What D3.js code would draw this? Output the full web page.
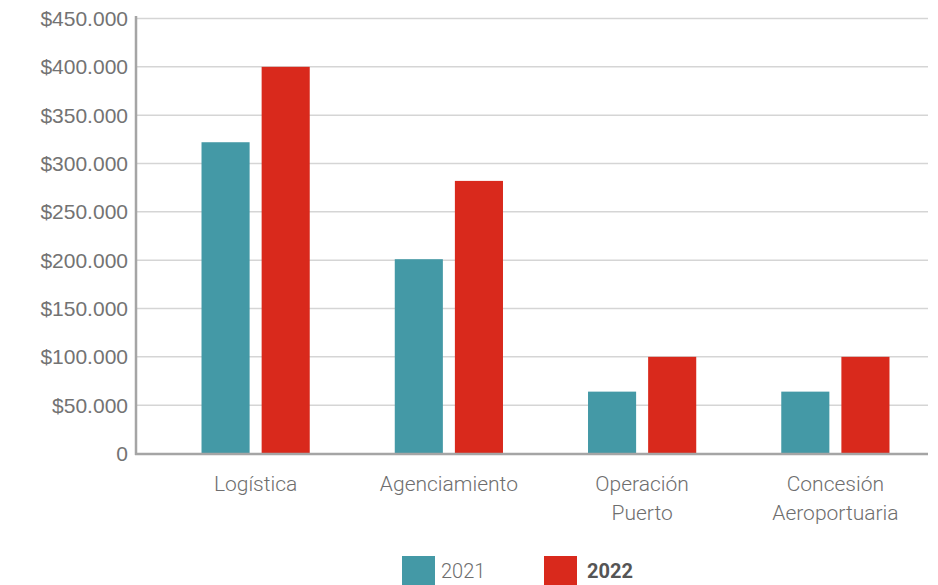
<!DOCTYPE html>
<html>
<head>
<meta charset="utf-8">
<script src="https://cdn.jsdelivr.net/npm/d3@7"></script>
<style>
 body { margin: 0; background: #fff; }
 svg { display: block; }
</style>
</head>
<body>
<div id="chart"></div>
<script>
var w = 938;
var h = 585;

// data
var categories = [["Logística"], ["Agenciamiento"], ["Operación", "Puerto"], ["Concesión", "Aeroportuaria"]];
var series = ["2021", "2022"];
var values2021 = [322000, 201000, 64000, 64000];
var values2022 = [400000, 282000, 100000, 100000];
var yTicks = [0, 50000, 100000, 150000, 200000, 250000, 300000, 350000, 400000, 450000];
var colors = ["#4499a6", "#d9291c"];

var svg = d3.select("#chart")
 .append("svg")
 .attr("width", w)
 .attr("height", h);

var pLeft = 136, pRight = 928, pTop = 18.5, pBottom = 453.5;

var yScale = d3.scaleLinear().domain([0, 450000]).range([pBottom, pTop]);
var keys = categories.map(function(c) { return c.join(" "); });
var x0 = d3.scaleBand().domain(keys).range([159, 932]).paddingInner(0.44).paddingOuter(0.22);
var x1 = d3.scaleBand().domain(series).range([0, x0.bandwidth()]).paddingInner(0.2);

// gridlines
svg.append("g")
 .selectAll("line")
 .data(yTicks.slice(1))
 .enter().append("line")
 .attr("x1", pLeft).attr("x2", pRight)
 .attr("y1", function(d) { return yScale(d); })
 .attr("y2", function(d) { return yScale(d); })
 .attr("stroke", "#d5d5d5")
 .attr("stroke-width", 1.5);

// y labels
var fmt = function(d) {
  if (d === 0) return "0";
  return "$" + d3.format(",")(d).replace(/,/g, ".");
};
svg.append("g")
 .selectAll("text")
 .data(yTicks)
 .enter().append("text")
 .attr("x", 128)
 .attr("y", function(d) { return yScale(d); })
 .attr("dy", "0.35em")
 .attr("text-anchor", "end")
 .style("font-family", "Liberation Sans, Arial, sans-serif")
 .style("font-size", "21px")
 .style("fill", "#737373")
 .text(fmt);

// bars
var rows = keys.map(function(k, i) { return { key: k, v: [values2021[i], values2022[i]] }; });
var grp = svg.append("g")
 .selectAll("g")
 .data(rows)
 .enter().append("g")
 .attr("transform", function(d) { return "translate(" + x0(d.key) + ",0)"; });

grp.selectAll("rect")
 .data(function(d) { return series.map(function(s, j) { return { s: s, v: d.v[j], j: j }; }); })
 .enter().append("rect")
 .attr("x", function(d) { return x1(d.s); })
 .attr("y", function(d) { return yScale(d.v); })
 .attr("width", x1.bandwidth())
 .attr("height", function(d) { return pBottom - yScale(d.v); })
 .style("fill", function(d) { return colors[d.j]; });

// axes lines
svg.append("line")
 .attr("x1", pLeft).attr("x2", pLeft).attr("y1", 16).attr("y2", pBottom + 1.5)
 .attr("stroke", "#a5a5a5").attr("stroke-width", 2.5);
svg.append("line")
 .attr("x1", pLeft - 1).attr("x2", pRight).attr("y1", pBottom + 0.5).attr("y2", pBottom + 0.5)
 .attr("stroke", "#a5a5a5").attr("stroke-width", 2.5);

// category labels
var lab = svg.append("g")
 .selectAll("text")
 .data(categories)
 .enter().append("text")
 .attr("x", function(d, i) { return x0(keys[i]) + x0.bandwidth() / 2; })
 .attr("y", 491)
 .attr("text-anchor", "middle")
 .style("font-family", "Roboto, sans-serif")
 .style("font-weight", 300)
 .style("font-size", "21px")
 .style("fill", "#6e6e6e");
lab.selectAll("tspan")
 .data(function(d) { return d; })
 .enter().append("tspan")
 .attr("x", function() { return d3.select(this.parentNode).attr("x"); })
 .attr("dy", function(d, i) { return i === 0 ? 0 : 29; })
 .text(function(d) { return d; });

// legend
var legX = [402, 544];
var leg = svg.append("g")
 .selectAll("g")
 .data(series)
 .enter().append("g")
 .attr("transform", function(d, i) { return "translate(" + legX[i] + ",556)"; });
leg.append("rect")
 .attr("width", 33).attr("height", 30)
 .style("fill", function(d, i) { return colors[i]; });
leg.append("text")
 .attr("x", function(d, i) { return i === 0 ? 39 : 43; })
 .attr("y", 22)
 .style("font-family", "Roboto, sans-serif")
 .style("font-weight", function(d, i) { return i === 0 ? 300 : 700; })
 .style("font-size", "20px")
 .style("fill", function(d, i) { return i === 0 ? "#6e6e6e" : "#555"; })
 .text(function(d) { return d; });
</script>
</body>
</html>
